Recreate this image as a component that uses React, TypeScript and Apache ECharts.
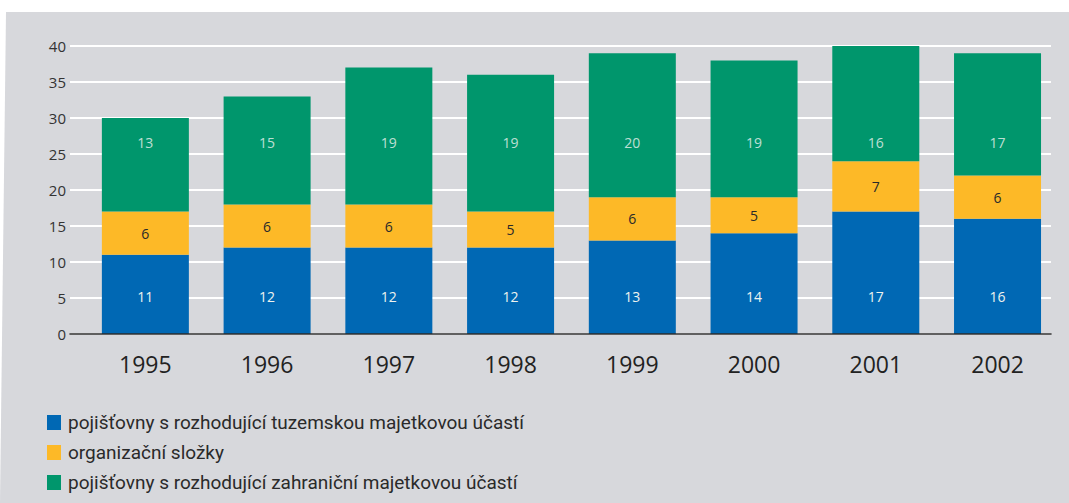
import React, { useEffect, useRef } from "react";
import * as echarts from "echarts";

const years = ["1995", "1996", "1997", "1998", "1999", "2000", "2001", "2002"];
const domestic = [11, 12, 12, 12, 13, 14, 17, 16];
const branches = [6, 6, 6, 5, 6, 5, 7, 6];
const foreign = [13, 15, 19, 19, 20, 19, 16, 17];
const yTicks = [0, 5, 10, 15, 20, 25, 30, 35, 40];

const seriesNames = [
  "pojišťovny s rozhodující tuzemskou majetkovou účastí",
  "organizační složky",
  "pojišťovny s rozhodující zahraniční majetkovou účastí",
];

const BLUE = "#0068b4";
const YELLOW = "#fdb927";
const GREEN = "#00966c";
const BG = "#d7d8dc";
const FONT = "'Open Sans', 'Noto Sans', sans-serif";
const LEGEND_FONT = "Roboto, 'Open Sans', sans-serif";
const GREEN_LABEL_LEVEL = 26.6;

export default function App() {
  const ref = useRef<HTMLDivElement>(null);
  useEffect(() => {
    if (!ref.current) return;
    const chart = echarts.init(ref.current, null, { renderer: "svg" });
    const lightLabel = { color: "#eef3ef", fontSize: 14, fontFamily: FONT };
    const legendTops = [413, 443, 473];
    chart.setOption({
      animation: false,
      backgroundColor: "#ffffff",
      textStyle: { fontFamily: FONT },
      graphic: [
        {
          type: "polygon",
          z: -100,
          silent: true,
          shape: { points: [[6, 12], [1069, 12], [1069, 503], [0, 503]] },
          style: { fill: BG },
        },
      ],
      grid: [
        { left: 84.5, right: 10.6, top: 46, bottom: 169 },
        { left: 70, right: 18, top: 46, bottom: 169 },
      ],
      xAxis: [
        {
          type: "category",
          gridIndex: 0,
          data: years,
          axisLine: { show: false },
          axisTick: { show: false },
          axisLabel: { fontSize: 23, color: "#222", margin: 18, fontFamily: FONT },
        },
        {
          type: "value",
          gridIndex: 1,
          min: 0,
          max: 1,
          z: 10,
          axisLine: { show: true, lineStyle: { color: "#2b2b2b", width: 1.5 } },
          axisTick: { show: false },
          axisLabel: { show: false },
          splitLine: { show: false },
        },
      ],
      yAxis: [
        {
          type: "value",
          gridIndex: 0,
          min: 0,
          max: 40,
          show: false,
          splitLine: { show: false },
        },
        {
          type: "value",
          gridIndex: 1,
          min: yTicks[0],
          max: yTicks[yTicks.length - 1],
          interval: 5,
          axisLine: { show: false },
          axisTick: { show: false },
          axisLabel: { fontSize: 15, color: "#333", margin: 4, fontFamily: FONT },
          splitLine: { show: true, lineStyle: { color: "#ffffff", width: 2 } },
        },
      ],
      legend: seriesNames.map((name, i) => ({
        orient: "vertical",
        left: 47,
        top: legendTops[i],
        padding: 0,
        icon: "rect",
        itemWidth: 14,
        itemHeight: 15,
        data: [name],
        textStyle: {
          fontSize: 19,
          color: "#2a2a2a",
          fontFamily: LEGEND_FONT,
          padding: [0, 0, 0, 2],
        },
      })),
      series: [
        {
          name: seriesNames[0],
          type: "bar",
          stack: "t",
          barWidth: 87,
          xAxisIndex: 0,
          yAxisIndex: 0,
          data: domestic,
          itemStyle: { color: BLUE },
          label: { show: true, position: "insideBottom", distance: 31, ...lightLabel },
        },
        {
          name: seriesNames[1],
          type: "bar",
          stack: "t",
          barWidth: 87,
          xAxisIndex: 0,
          yAxisIndex: 0,
          data: branches,
          itemStyle: { color: YELLOW },
          label: { show: true, position: "inside", color: "#2a2a2a", fontSize: 14, fontFamily: FONT },
        },
        {
          name: seriesNames[2],
          type: "bar",
          stack: "t",
          barWidth: 87,
          xAxisIndex: 0,
          yAxisIndex: 0,
          data: foreign,
          itemStyle: { color: GREEN },
          label: { show: false },
        },
        {
          name: "greenLabels",
          type: "scatter",
          xAxisIndex: 0,
          yAxisIndex: 0,
          symbolSize: 0,
          silent: true,
          z: 5,
          data: foreign.map((v, i) => [i, GREEN_LABEL_LEVEL]),
          label: {
            show: true,
            position: "inside",
            formatter: (p: any) => String(foreign[p.dataIndex]),
            ...lightLabel,
          },
        },
      ],
    });
    return () => chart.dispose();
  }, []);
  return (
    <div
      ref={ref}
      style={{ position: "absolute", left: 0, top: 0, width: 1069, height: 503 }}
    />
  );
}
